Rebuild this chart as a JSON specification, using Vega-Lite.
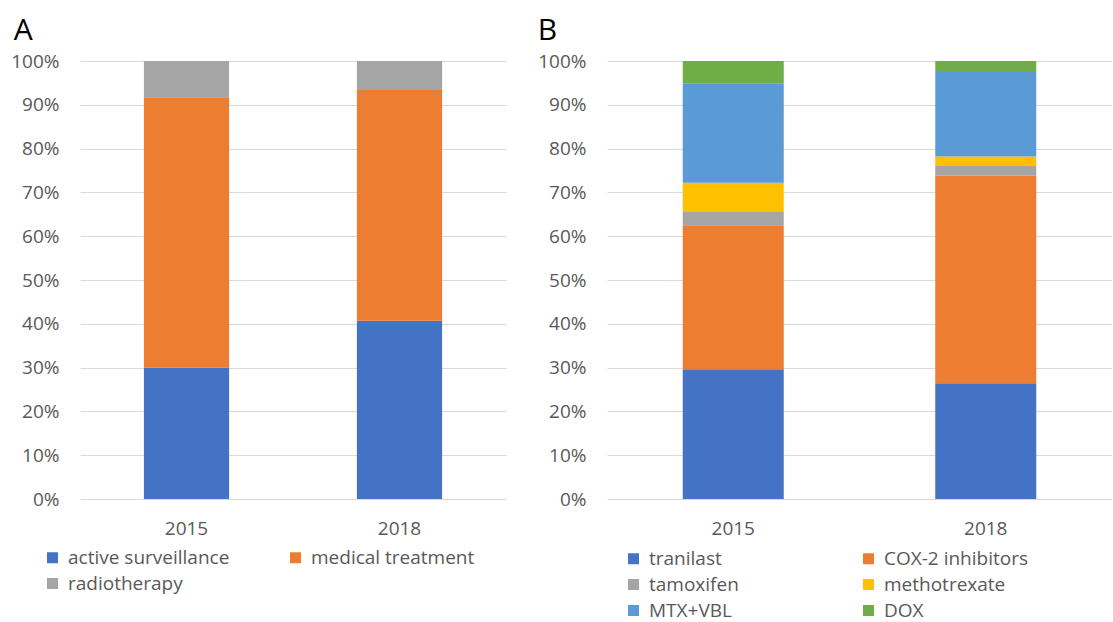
{
  "$schema": "https://vega.github.io/schema/vega-lite/v6.json",
  "background": "white",
  "padding": {"left": 10, "top": 16, "right": 0, "bottom": 0},
  "autosize": {"type": "pad"},
  "bounds": "flush",
  "spacing": 101,
  "config": {
    "font": "Open Sans",
    "view": {"stroke": null},
    "axis": {"labelFont": "Open Sans", "labelFontSize": 19, "labelColor": "#595959", "ticks": false, "tickSize": 0, "domain": false, "title": null},
    "legend": {"labelFont": "Open Sans", "labelFontSize": 19, "labelColor": "#595959", "labelLimit": 0, "padding": 0, "symbolType": "square", "symbolSize": 121, "symbolStrokeWidth": 0, "labelOffset": 6, "rowPadding": 6, "orient": "none", "direction": "horizontal", "columns": 2, "gridAlign": "each", "title": null},
    "title": {"font": "Open Sans", "fontSize": 30, "fontWeight": "normal", "color": "#000000", "anchor": "start", "frame": "bounds", "baseline": "alphabetic", "offset": 6}
  },
  "resolve": {"scale": {"color": "independent", "y": "independent", "x": "independent"}, "legend": {"color": "independent"}},
  "hconcat": [
    {
      "title": {"text": "A", "dx": 3},
      "width": 426,
      "height": 438,
      "data": {"values": [
        {"year": "2015", "group": "active surveillance", "share": 30.0},
        {"year": "2015", "group": "medical treatment", "share": 61.7},
        {"year": "2015", "group": "radiotherapy", "share": 8.3},
        {"year": "2018", "group": "active surveillance", "share": 40.7},
        {"year": "2018", "group": "medical treatment", "share": 52.7},
        {"year": "2018", "group": "radiotherapy", "share": 6.6}
      ]},
      "transform": [
        {"calculate": "indexof(['active surveillance', 'medical treatment', 'radiotherapy'], datum.group)", "as": "stackRank"}
      ],
      "mark": {"type": "bar"},
      "encoding": {
        "x": {"field": "year", "type": "nominal", "scale": {"paddingInner": 0.6, "paddingOuter": 0.3},
              "axis": {"labelAngle": 0, "labelPadding": 20, "grid": false}},
        "y": {"field": "share", "type": "quantitative", "stack": "normalize",
              "scale": {"domain": [0, 1]},
              "axis": {"values": [0, 0.1, 0.2, 0.3, 0.4, 0.5, 0.6, 0.7, 0.8, 0.9, 1], "format": ".0%", "labelPadding": 21, "grid": true, "gridColor": "#d9d9d9", "gridWidth": 1}},
        "order": {"field": "stackRank", "type": "quantitative", "sort": "ascending"},
        "color": {"field": "group", "type": "nominal",
                  "scale": {"domain": ["active surveillance", "medical treatment", "radiotherapy"], "range": ["#4472C4", "#ED7D31", "#A5A5A5"]},
                  "legend": {"legendX": -37, "legendY": 487, "columnPadding": 56}}
      }
    },
    {
      "title": {"text": "B", "dx": 0},
      "width": 505,
      "height": 438,
      "data": {"values": [
        {"year": "2015", "drug": "tranilast", "share": 29.6},
        {"year": "2015", "drug": "COX-2 inhibitors", "share": 32.9},
        {"year": "2015", "drug": "tamoxifen", "share": 3.2},
        {"year": "2015", "drug": "methotrexate", "share": 6.5},
        {"year": "2015", "drug": "MTX+VBL", "share": 22.7},
        {"year": "2015", "drug": "DOX", "share": 5.1},
        {"year": "2018", "drug": "tranilast", "share": 26.4},
        {"year": "2018", "drug": "COX-2 inhibitors", "share": 47.4},
        {"year": "2018", "drug": "tamoxifen", "share": 2.2},
        {"year": "2018", "drug": "methotrexate", "share": 2.2},
        {"year": "2018", "drug": "MTX+VBL", "share": 19.5},
        {"year": "2018", "drug": "DOX", "share": 2.3}
      ]},
      "transform": [
        {"calculate": "indexof(['tranilast', 'COX-2 inhibitors', 'tamoxifen', 'methotrexate', 'MTX+VBL', 'DOX'], datum.drug)", "as": "stackRank"}
      ],
      "mark": {"type": "bar"},
      "encoding": {
        "x": {"field": "year", "type": "nominal", "scale": {"paddingInner": 0.6, "paddingOuter": 0.3},
              "axis": {"labelAngle": 0, "labelPadding": 20, "grid": false}},
        "y": {"field": "share", "type": "quantitative", "stack": "normalize",
              "scale": {"domain": [0, 1]},
              "axis": {"values": [0, 0.1, 0.2, 0.3, 0.4, 0.5, 0.6, 0.7, 0.8, 0.9, 1], "format": ".0%", "labelPadding": 21, "grid": true, "gridColor": "#d9d9d9", "gridWidth": 1}},
        "order": {"field": "stackRank", "type": "quantitative", "sort": "ascending"},
        "color": {"field": "drug", "type": "nominal",
                  "scale": {"domain": ["tranilast", "COX-2 inhibitors", "tamoxifen", "methotrexate", "MTX+VBL", "DOX"], "range": ["#4472C4", "#ED7D31", "#A5A5A5", "#FFC000", "#5B9BD5", "#70AD47"]},
                  "legend": {"legendX": 17, "legendY": 488, "columnPadding": 120}}
      }
    }
  ]
}
